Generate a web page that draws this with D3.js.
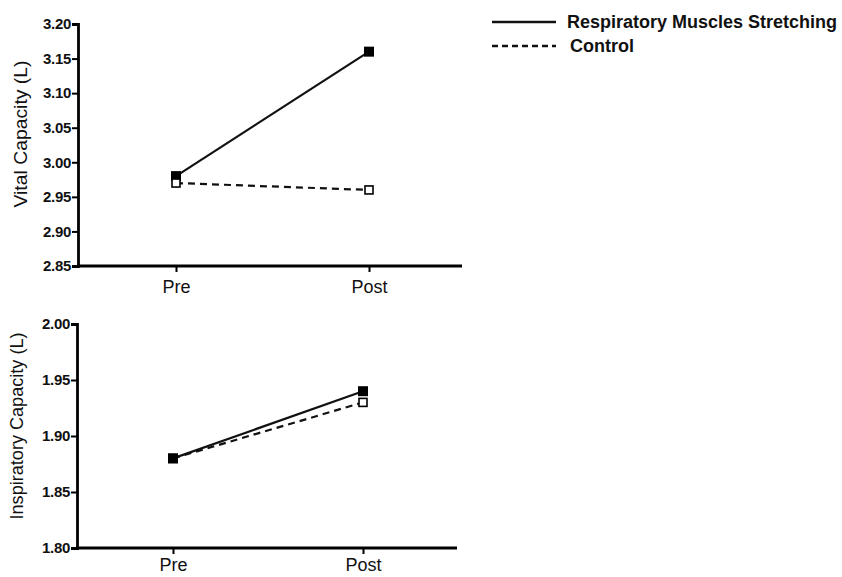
<!DOCTYPE html>
<html>
<head>
<meta charset="utf-8">
<script src="https://cdn.jsdelivr.net/npm/d3@7"></script>
<style>
  body { margin: 0; background: #fff; }
  svg { display: block; font-family: "Liberation Sans", Arial, sans-serif; }
</style>
</head>
<body>
<svg id="chart" width="842" height="577"></svg>
<script>
// data
var phases = ["Pre", "Post"];
var seriesNames = ["Respiratory Muscles Stretching", "Control"];

var vitalStretch = [2.98, 3.16];
var vitalControl = [2.97, 2.96];
var vitalTicks = [2.85, 2.90, 2.95, 3.00, 3.05, 3.10, 3.15, 3.20];

var inspStretch = [1.88, 1.94];
var inspControl = [1.88, 1.93];
var inspTicks = [1.80, 1.85, 1.90, 1.95, 2.00];

var svg = d3.select("#chart");

// one panel = axes + two lines
function drawPanel(opt) {
  var g = svg.append("g");

  var x = d3.scalePoint().domain(phases).range([opt.preX, opt.postX]);
  var y = d3.scaleLinear().domain([opt.ticks[0], opt.ticks[opt.ticks.length - 1]])
    .range([opt.bottom, opt.top]);

  // y axis
  var yAxis = g.append("g")
    .attr("transform", "translate(" + opt.left + ",0)")
    .call(d3.axisLeft(y).tickValues(opt.ticks).tickFormat(d3.format(".2f"))
      .tickSizeOuter(0).tickSize(6).tickPadding(1));
  yAxis.attr("font-family", null);
  yAxis.select(".domain").attr("stroke-width", 2.8);
  yAxis.selectAll(".tick line").attr("stroke-width", 2);
  yAxis.selectAll(".tick text")
    .style("font-size", "15px").style("font-weight", "bold")
    .attr("fill", "#111").attr("letter-spacing", "-0.3px");

  // x axis
  var xAxis = g.append("g")
    .attr("transform", "translate(0," + opt.bottom + ")")
    .call(d3.axisBottom(x).tickSizeOuter(0).tickSize(6).tickPadding(opt.labelPad));
  xAxis.attr("font-family", null);
  xAxis.select(".domain")
    .attr("d", "M" + (opt.left - 1) + ",0H" + opt.right)
    .attr("stroke-width", 2.8);
  xAxis.selectAll(".tick line").attr("stroke-width", 2);
  xAxis.selectAll(".tick text")
    .style("font-size", "18px").attr("fill", "#111");

  // y title
  g.append("text")
    .attr("transform", "translate(" + opt.titleX + "," + opt.titleY + ") rotate(-90)")
    .attr("text-anchor", "middle")
    .style("font-size", "18px")
    .attr("textLength", opt.titleLen)
    .attr("lengthAdjust", "spacingAndGlyphs")
    .attr("fill", "#111")
    .text(opt.title);

  var line = d3.line()
    .x(function(d, i) { return x(phases[i]); })
    .y(function(d) { return y(d); });

  // control: dashed, open squares
  g.append("path").datum(opt.control)
    .attr("d", line).attr("fill", "none").attr("stroke", "#111")
    .attr("stroke-width", 2.2).attr("stroke-dasharray", "7,5");
  // stretching: solid, filled squares
  g.append("path").datum(opt.stretch)
    .attr("d", line).attr("fill", "none").attr("stroke", "#111")
    .attr("stroke-width", 2.2);

  function filled() {
    g.selectAll(".sq-stretch").data(opt.stretch).enter().append("rect")
      .attr("class", "sq-stretch")
      .attr("x", function(d, i) { return x(phases[i]) - 5; })
      .attr("y", function(d) { return y(d) - 5; })
      .attr("width", 10).attr("height", 10)
      .attr("fill", "#000");
  }
  function open() {
    g.selectAll(".sq-control").data(opt.control).enter().append("rect")
      .attr("class", "sq-control")
      .attr("x", function(d, i) { return x(phases[i]) - 4; })
      .attr("y", function(d) { return y(d) - 4; })
      .attr("width", 8).attr("height", 8)
      .attr("fill", "#fff").attr("stroke", "#000").attr("stroke-width", 1.6);
  }
  if (opt.openOnTop) { filled(); open(); } else { open(); filled(); }
}

drawPanel({
  left: 78, right: 462, top: 24, bottom: 266,
  preX: 176, postX: 369, labelPad: 8,
  ticks: vitalTicks,
  stretch: vitalStretch, control: vitalControl,
  title: "Vital Capacity (L)", titleX: 27, titleY: 134, titleLen: 147,
  openOnTop: true
});

drawPanel({
  left: 77, right: 457, top: 324, bottom: 548,
  preX: 173, postX: 363, labelPad: 4,
  ticks: inspTicks,
  stretch: inspStretch, control: inspControl,
  title: "Inspiratory Capacity (L)", titleX: 23, titleY: 426, titleLen: 187,
  openOnTop: false
});

// legend
var legend = svg.append("g");
var legendY = [22, 46];
legend.selectAll("line").data(seriesNames).enter().append("line")
  .attr("x1", 492).attr("x2", 556)
  .attr("y1", function(d, i) { return legendY[i]; })
  .attr("y2", function(d, i) { return legendY[i]; })
  .attr("stroke", "#111").attr("stroke-width", 2.4)
  .attr("stroke-dasharray", function(d, i) { return i ? "6,4" : null; });
legend.selectAll("text").data(seriesNames).enter().append("text")
  .attr("x", function(d, i) { return i ? 570 : 567; })
  .attr("y", function(d, i) { return legendY[i] + 6; })
  .style("font-size", "18px").style("font-weight", "bold")
  .attr("fill", "#111")
  .text(function(d) { return d; });
</script>
</body>
</html>
